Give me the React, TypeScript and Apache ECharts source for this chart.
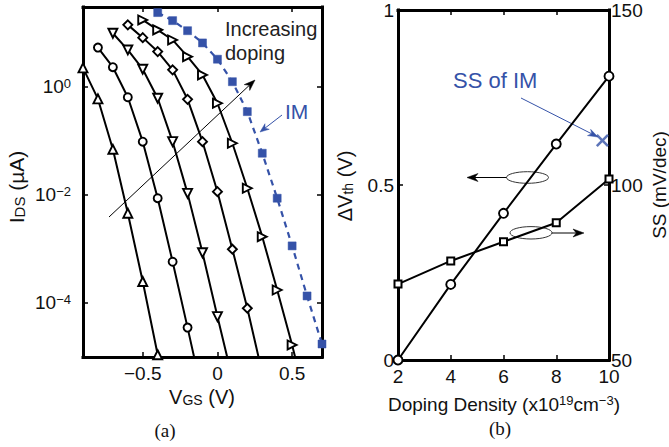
import React, { useEffect, useRef } from 'react';
import * as echarts from 'echarts';

// ---------- Panel (a): IDS (µA) vs VGS (V) ----------
const vgsA1 = [-0.9, -0.8, -0.7, -0.6, -0.5, -0.4];
const idsA1 = [2.25, 0.6, 7.0e-2, 4.6e-3, 2.5e-4, 1.1e-5];

const vgsA2 = [-0.8, -0.7, -0.6, -0.5, -0.4, -0.3, -0.2, -0.1];
const idsA2 = [5.35, 2.32, 0.644, 0.097, 8.7e-3, 5.8e-4, 3.5e-5, 2.0e-6];

const vgsA3 = [-0.7, -0.6, -0.5, -0.4, -0.3, -0.2, -0.1, 0.0, 0.1];
const idsA3 = [9.86, 4.84, 2.13, 0.618, 0.097, 1.07e-2, 8.5e-4, 5.6e-5, 4.0e-6];

const vgsA4 = [-0.6, -0.5, -0.4, -0.3, -0.2, -0.1, 0.0, 0.1, 0.2, 0.3];
const idsA4 = [14.1, 8.18, 4.51, 2.07, 0.59, 0.097, 1.15e-2, 9.9e-4, 8.0e-5, 5.0e-6];

const vgsA5 = [-0.5, -0.4, -0.3, -0.2, -0.1, 0.0, 0.1, 0.2, 0.3, 0.4, 0.5, 0.6];
const idsA5 = [17.4, 11.4, 7.41, 3.64, 1.67, 0.499, 9.06e-2, 1.33e-2, 1.69e-3, 1.74e-4, 1.67e-5, 1.26e-6];

const vgsIM = [-0.4, -0.3, -0.2, -0.1, 0.0, 0.1, 0.2, 0.3, 0.4, 0.5, 0.6, 0.7];
const idsIM = [23.8, 16.9, 11.0, 6.53, 3.26, 1.25, 0.349, 5.92e-2, 8.7e-3, 1.14e-3, 1.35e-4, 1.74e-5];

const xTicksA = [-0.5, 0, 0.5];
const yDecadesA = [-4, -2, 0];

// ---------- Panel (b): ΔVth and SS vs doping ----------
const doping = [2, 4, 6, 8, 10];
const dVth = [0, 0.216, 0.419, 0.617, 0.811];
const ssValues = [71.7, 78.3, 83.8, 89.2, 101.7];
const ssIM: [number, number] = [9.75, 112.7];
const xTicksB = [4, 6, 8];

const SANS = '"Liberation Sans", Arial, Helvetica, sans-serif';
const SERIF = '"Liberation Serif", "Times New Roman", serif';
const INK = '#111';
const BLUE = '#3552A8';

function toLog(xs: number[], ys: number[]) {
  return xs.map((x, i) => [x, Math.log10(ys[i])]);
}

function arrow(x1: number, y1: number, x2: number, y2: number, color: string, w: number, hl: number, hw: number) {
  const a = Math.atan2(y2 - y1, x2 - x1);
  const c = Math.cos(a), s = Math.sin(a);
  const bx = x2 - hl * c, by = y2 - hl * s;
  const nx = x2 - hl * 0.7 * c, ny = y2 - hl * 0.7 * s;
  const px = -s * hw, py = c * hw;
  return [
    { type: 'line', silent: true, shape: { x1, y1, x2: nx, y2: ny }, style: { stroke: color, lineWidth: w } },
    {
      type: 'polygon', silent: true,
      shape: { points: [[x2, y2], [bx + px, by + py], [nx, ny], [bx - px, by - py]] },
      style: { fill: color, stroke: color, lineWidth: 0.5 },
    },
  ];
}

const axisLineStyle = { show: true, onZero: false, lineStyle: { color: '#000', width: 3, cap: 'square' } };
const tickStyle = (vals: number[] | null) => ({
  show: true, inside: true, length: 5,
  ...(vals ? { customValues: vals } : {}),
  lineStyle: { color: '#000', width: 1.5 },
});
const labelBase = { color: INK, fontFamily: SANS, fontSize: 19 };

export default function App() {
  const ref = useRef<HTMLDivElement>(null);
  useEffect(() => {
    document.body.style.margin = '0';
    if (!ref.current) return;
    const chart = echarts.init(ref.current, null, { renderer: 'svg' });

    const hollow = { color: '#fff', borderColor: '#000', borderWidth: 1.9 };
    const blackLine = { color: '#000', width: 2 };
    const mk = (name: string, xs: number[], ys: number[], symbol: string, rot: number, size: number) => ({
      name, type: 'line', xAxisIndex: 0, yAxisIndex: 0,
      data: toLog(xs, ys), symbol, symbolRotate: rot, symbolSize: size,
      showAllSymbol: true, clip: true, silent: true,
      lineStyle: blackLine, itemStyle: hollow, z: 3,
    });

    const supRich = {
      b: { fontSize: 19, lineHeight: 19, padding: [4, 0, 4, 0], fontFamily: SANS, color: INK },
      s: { fontSize: 13, lineHeight: 13, verticalAlign: 'top', fontFamily: SANS, color: INK },
    };

    const option: any = {
      animation: false,
      backgroundColor: '#fff',
      grid: [
        { left: 83, top: 7, width: 239, height: 350 },
        { left: 398, top: 10, width: 211, height: 350 },
      ],
      xAxis: [
        {
          gridIndex: 0, type: 'value', min: -0.9, max: 0.7, position: 'bottom',
          axisLine: axisLineStyle, axisTick: tickStyle(xTicksA), splitLine: { show: false },
          axisLabel: { ...labelBase, margin: 7, customValues: xTicksA, formatter: (v: number) => (v < 0 ? '−' + Math.abs(v) : String(v)) },
        },
        {
          gridIndex: 0, type: 'value', min: -0.9, max: 0.7, position: 'top',
          axisLine: axisLineStyle, axisTick: tickStyle(xTicksA), splitLine: { show: false },
          axisLabel: { show: false },
        },
        {
          gridIndex: 1, type: 'value', min: 2, max: 10, interval: 2, position: 'bottom',
          axisLine: axisLineStyle, axisTick: tickStyle(xTicksB), splitLine: { show: false },
          axisLabel: { ...labelBase, margin: 7 },
        },
        {
          gridIndex: 1, type: 'value', min: 2, max: 10, interval: 2, position: 'top',
          axisLine: axisLineStyle, axisTick: tickStyle(xTicksB), splitLine: { show: false },
          axisLabel: { show: false },
        },
      ],
      yAxis: [
        {
          gridIndex: 0, type: 'value', min: -5, max: 1.48, position: 'left',
          axisLine: axisLineStyle, axisTick: tickStyle(yDecadesA), splitLine: { show: false },
          axisLabel: {
            margin: 12, customValues: yDecadesA, rich: supRich,
            formatter: (v: number) => `{b|10}{s|${v === 0 ? '0' : '−' + Math.abs(v)}}`,
          },
        },
        {
          gridIndex: 0, type: 'value', min: -5, max: 1.48, position: 'right',
          axisLine: axisLineStyle, axisTick: tickStyle(yDecadesA), splitLine: { show: false },
          axisLabel: { show: false },
        },
        {
          gridIndex: 1, type: 'value', min: 0, max: 1, interval: 0.5, position: 'left',
          axisLine: axisLineStyle, axisTick: tickStyle([0.5]), splitLine: { show: false },
          axisLabel: { ...labelBase, margin: 4 },
        },
        {
          gridIndex: 1, type: 'value', min: 50, max: 150, interval: 50, position: 'right',
          axisLine: axisLineStyle, axisTick: tickStyle([100]), splitLine: { show: false },
          axisLabel: { ...labelBase, margin: 2 },
        },
      ],
      series: [
        mk('d1', vgsA1, idsA1, 'triangle', 0, 9),
        mk('d2', vgsA2, idsA2, 'circle', 0, 8),
        mk('d3', vgsA3, idsA3, 'triangle', 180, 9),
        mk('d4', vgsA4, idsA4, 'diamond', 0, 9),
        mk('d5', vgsA5, idsA5, 'triangle', -90, 9),
        {
          name: 'IM', type: 'line', xAxisIndex: 0, yAxisIndex: 0, data: toLog(vgsIM, idsIM),
          symbol: 'rect', symbolSize: 8, showAllSymbol: true, silent: true, z: 4,
          lineStyle: { color: BLUE, width: 2.2, type: [6, 5] },
          itemStyle: { color: BLUE, borderColor: BLUE, borderWidth: 0.5 },
        },
        {
          name: 'dVth', type: 'line', xAxisIndex: 2, yAxisIndex: 2,
          data: doping.map((d, i) => [d, dVth[i]]),
          symbol: 'circle', symbolSize: 9, silent: true, clip: false,
          lineStyle: blackLine, itemStyle: hollow, z: 3,
        },
        {
          name: 'SS', type: 'line', xAxisIndex: 2, yAxisIndex: 3,
          data: doping.map((d, i) => [d, ssValues[i]]),
          symbol: 'rect', symbolSize: 7, silent: true, clip: false,
          lineStyle: blackLine, itemStyle: { color: '#fff', borderColor: '#000', borderWidth: 2 }, z: 3,
        },
        {
          name: 'SS of IM', type: 'scatter', xAxisIndex: 2, yAxisIndex: 3, data: [ssIM],
          symbol: 'path://M0,1.4L1.4,0L5,3.6L8.6,0L10,1.4L6.4,5L10,8.6L8.6,10L5,6.4L1.4,10L0,8.6L3.6,5Z',
          symbolSize: 13, silent: true, itemStyle: { color: BLUE }, z: 5,
        },
      ],
      graphic: [
        // panel (a) annotations
        ...arrow(109, 217, 255, 80, '#000', 1, 11, 4),
        {
          type: 'text', x: 225, y: 17, silent: true,
          style: { text: 'Increasing\ndoping', fontSize: 20, fontFamily: SANS, fill: '#222', lineHeight: 24, align: 'left', verticalAlign: 'top' },
        },
        ...arrow(282, 115, 260, 132, BLUE, 1, 9, 3.5),
        {
          type: 'text', x: 285, y: 111, silent: true,
          style: { text: 'IM', fontSize: 21, fontFamily: SANS, fill: BLUE, align: 'left', verticalAlign: 'middle' },
        },
        // axis titles (a)
        {
          type: 'text', x: 202, y: 397, silent: true,
          style: {
            text: '{m|V}{u|GS}{m| (V)}', align: 'center', verticalAlign: 'middle',
            rich: {
              m: { fontSize: 20, lineHeight: 20, padding: [0, 0, 6, 0], verticalAlign: 'top', fontFamily: SANS, fill: INK },
              u: { fontSize: 14, lineHeight: 14, verticalAlign: 'bottom', fontFamily: SANS, fill: INK },
            },
          },
        },
        {
          type: 'text', x: 16, y: 187, rotation: Math.PI / 2, silent: true,
          style: {
            text: '{m|I}{u|DS}{m| (µA)}', align: 'center', verticalAlign: 'middle',
            rich: {
              m: { fontSize: 21, lineHeight: 21, padding: [0, 0, 6, 0], verticalAlign: 'top', fontFamily: SANS, fill: INK },
              u: { fontSize: 15, lineHeight: 15, verticalAlign: 'bottom', fontFamily: SANS, fill: INK },
            },
          },
        },
        {
          type: 'text', x: 165, y: 430, silent: true,
          style: { text: '(a)', fontSize: 19, fontFamily: SERIF, fill: INK, align: 'center', verticalAlign: 'middle' },
        },
        // panel (b) annotations
        {
          type: 'text', x: 453, y: 80, silent: true,
          style: { text: 'SS of IM', fontSize: 22, fontFamily: SANS, fill: BLUE, align: 'left', verticalAlign: 'middle' },
        },
        ...arrow(521, 98, 598, 137, BLUE, 1, 10, 3.5),
        {
          type: 'ellipse', silent: true, shape: { cx: 527.5, cy: 177.5, rx: 21, ry: 5.8 },
          style: { fill: 'none', stroke: '#333', lineWidth: 1 },
        },
        ...arrow(506.5, 177.5, 467, 177.5, '#000', 1, 11, 4),
        {
          type: 'ellipse', silent: true, shape: { cx: 531, cy: 232.8, rx: 21, ry: 6.2 },
          style: { fill: 'none', stroke: '#333', lineWidth: 1 },
        },
        ...arrow(552, 233, 584, 233, '#000', 1, 11, 4),
        {
          type: 'text', x: 504, y: 403, silent: true,
          style: {
            text: '{m|Doping Density (x10}{s|19}{m|cm}{s|−3}{m|)}', align: 'center', verticalAlign: 'middle',
            rich: {
              m: { fontSize: 19, lineHeight: 19, padding: [5, 0, 3, 0], fontFamily: SANS, fill: INK },
              s: { fontSize: 13, lineHeight: 13, verticalAlign: 'top', fontFamily: SANS, fill: INK },
            },
          },
        },
        {
          type: 'text', x: 345, y: 186, rotation: Math.PI / 2, silent: true,
          style: {
            text: '{m|ΔV}{u|th}{m| (V)}', align: 'center', verticalAlign: 'middle',
            rich: {
              m: { fontSize: 20, lineHeight: 20, padding: [0, 0, 6, 0], verticalAlign: 'top', fontFamily: SANS, fill: INK },
              u: { fontSize: 14, lineHeight: 14, verticalAlign: 'bottom', fontFamily: SANS, fill: INK },
            },
          },
        },
        {
          type: 'text', x: 659, y: 185, rotation: Math.PI / 2, silent: true,
          style: { text: 'SS (mV/dec)', fontSize: 19, fontFamily: SANS, fill: INK, align: 'center', verticalAlign: 'middle' },
        },
        {
          type: 'text', x: 500, y: 428, silent: true,
          style: { text: '(b)', fontSize: 19, fontFamily: SERIF, fill: INK, align: 'center', verticalAlign: 'middle' },
        },
      ],
    };
    chart.setOption(option);
    return () => chart.dispose();
  }, []);
  return <div ref={ref} style={{ width: 669, height: 447 }} />;
}
